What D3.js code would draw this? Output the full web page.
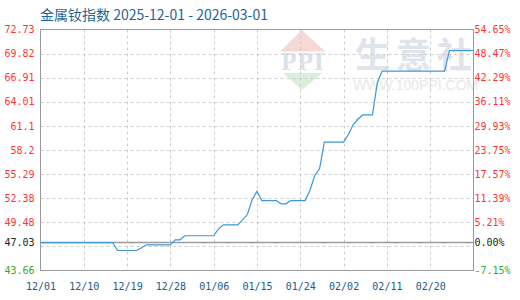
<!DOCTYPE html>
<html>
<head>
<meta charset="utf-8">
<script src="https://cdn.jsdelivr.net/npm/d3@7"></script>
<style>
  body { margin: 0; background: #fff; }
  svg { display: block; }
  .axis .domain { display: none; }
  .axis line { display: none; }
</style>
</head>
<body>
<div id="chart"></div>
<script>
// chart data
var titleText = "金属钕指数 2025-12-01 - 2026-03-01";
var baseValue = 47.03;
var dates = ["2025-12-01","2025-12-16","2025-12-17","2025-12-21","2025-12-22","2025-12-23",
	"2025-12-28","2025-12-29","2025-12-30","2025-12-31","2026-01-06","2026-01-07","2026-01-08",
	"2026-01-11","2026-01-12","2026-01-13","2026-01-14","2026-01-15","2026-01-16","2026-01-19",
	"2026-01-20","2026-01-21","2026-01-22","2026-01-25","2026-01-26","2026-01-27","2026-01-28",
	"2026-01-29","2026-02-02","2026-02-03","2026-02-04","2026-02-05","2026-02-06","2026-02-08",
	"2026-02-09","2026-02-10","2026-02-23","2026-02-24","2026-03-01"];
var values = [47.03,47.03,46.07,46.07,46.40,46.76,
	46.76,47.36,47.36,47.85,47.85,48.69,49.17,
	49.17,49.77,50.41,52.20,53.23,52.10,52.10,
	51.70,51.70,52.10,52.10,53.31,55.12,55.93,
	59.14,59.14,60.07,61.27,61.93,62.42,62.42,
	66.30,67.70,67.70,70.20,70.20];
var yTicks = [43.66, 46.57, 49.48, 52.38, 55.29, 58.2, 61.1, 64.01, 66.91, 69.82, 72.73];
var yTickLabels = ["43.66", "", "49.48", "52.38", "55.29", "58.2", "61.1", "64.01", "66.91", "69.82", "72.73"];
var pctTickLabels = ["-7.15%", "", "5.21%", "11.39%", "17.57%", "23.75%", "29.93%", "36.11%", "42.29%", "48.47%", "54.65%"];
var xTickLabels = ["12/01","12/10","12/19","12/28","01/06","01/15","01/24","02/02","02/11","02/20"];

var parseDate = d3.timeParse("%Y-%m-%d");
var series = dates.map((d, i) => ({date: parseDate(d), value: values[i]}));

var width = 520, height = 300;
var pLeft = 40.5, pRight = 473.5, pTop = 29.5, pBottom = 270.5;

var svg = d3.select("#chart").append("svg")
	.attr("width", width)
	.attr("height", height);

var x = d3.scaleTime()
	.domain([parseDate("2025-12-01"), parseDate("2026-03-01")])
	.range([pLeft, pRight]);
var y = d3.scaleLinear()
	.domain([43.66, 72.73])
	.range([pBottom, pTop]);

// watermark
var wm = svg.append("g");
wm.append("path")
	.attr("d", "M280,51.5 L302,30 L325,51.5 Z")
	.attr("fill", "#f6d9d6");
wm.append("path")
	.attr("d", "M283,73 L322,73 L302,90 Z")
	.attr("fill", "#d9eedb");
wm.append("text")
	.attr("x", 303).attr("y", 70)
	.attr("text-anchor", "middle")
	.attr("font-family", "Liberation Serif, serif")
	.attr("font-size", 25)
	.attr("font-weight", "bold")
	.attr("letter-spacing", 1)
	.attr("fill", "#dbe1ec")
	.text("PPI");
wm.append("text")
	.attr("x", 355).attr("y", 68)
	.attr("font-family", "Noto Sans CJK SC")
	.attr("font-size", 35)
	.attr("font-weight", "bold")
	.attr("letter-spacing", 6)
	.attr("fill", "#dfe3ec")
	.text("生意社");
wm.append("text")
	.attr("x", 353).attr("y", 90)
	.attr("font-family", "Liberation Sans, sans-serif")
	.attr("font-size", 14)
	.attr("fill", "#e8e8e8")
	.text("WWW.100PPI.COM");

// grid
var grid = svg.append("g")
	.attr("stroke", "#cccccc")
	.attr("stroke-dasharray", "3,3")
	.attr("stroke-width", 1);
grid.selectAll(".hgrid")
	.data(yTicks.slice(1, -1))
	.enter().append("line")
	.attr("x1", pLeft).attr("x2", pRight)
	.attr("y1", d => Math.round(y(d)) + 0.5)
	.attr("y2", d => Math.round(y(d)) + 0.5);

var xTickDates = xTickLabels.map(d => parseDate((d[0] == "1" ? "2025-" : "2026-") + d.replace("/", "-")));
grid.selectAll(".vgrid")
	.data(xTickDates.slice(1))
	.enter().append("line")
	.attr("y1", pTop).attr("y2", pBottom)
	.attr("x1", d => Math.round(x(d)) + 0.5)
	.attr("x2", d => Math.round(x(d)) + 0.5);

// base line
svg.append("line")
	.attr("x1", pLeft).attr("x2", pRight)
	.attr("y1", y(baseValue)).attr("y2", y(baseValue))
	.attr("stroke", "#9a9a9a")
	.attr("stroke-width", 1.5);

// frame
svg.append("rect")
	.attr("x", pLeft).attr("y", pTop)
	.attr("width", pRight - pLeft).attr("height", pBottom - pTop)
	.attr("fill", "none")
	.attr("stroke", "#9a9a9a")
	.attr("stroke-width", 1);

// line
var line = d3.line()
	.x(d => x(d.date))
	.y(d => y(d.value));
svg.append("path")
	.datum(series)
	.attr("fill", "none")
	.attr("stroke", "#3a98d8")
	.attr("stroke-width", 1.2)
	.attr("d", line);

// axes
function tickColor(i) {
	if (i == 0) return "#33aa33";
	return "#ff3333";
}

var yAxisLeft = d3.axisLeft(y)
	.tickValues(yTicks)
	.tickSize(0)
	.tickPadding(6)
	.tickFormat((d, i) => yTickLabels[i]);
var gl = svg.append("g")
	.attr("class", "axis")
	.attr("transform", "translate(" + pLeft + ",0)")
	.call(yAxisLeft);
gl.selectAll("text")
	.attr("font-family", "DejaVu Sans Mono, monospace")
	.attr("font-size", 10)
	.attr("fill", (d, i) => tickColor(i));

var yAxisRight = d3.axisRight(y)
	.tickValues(yTicks)
	.tickSize(0)
	.tickPadding(1)
	.tickFormat((d, i) => pctTickLabels[i]);
var gr = svg.append("g")
	.attr("class", "axis")
	.attr("transform", "translate(" + pRight + ",0)")
	.call(yAxisRight);
gr.selectAll("text")
	.attr("font-family", "DejaVu Sans Mono, monospace")
	.attr("font-size", 10)
	.attr("fill", (d, i) => tickColor(i));

// base value labels in black
svg.append("text")
	.attr("x", pLeft - 6).attr("y", y(baseValue))
	.attr("dy", "0.32em")
	.attr("text-anchor", "end")
	.attr("font-family", "DejaVu Sans Mono, monospace")
	.attr("font-size", 10)
	.attr("fill", "#222")
	.text(baseValue.toFixed(2));
svg.append("text")
	.attr("x", pRight + 1).attr("y", y(baseValue))
	.attr("dy", "0.32em")
	.attr("font-family", "DejaVu Sans Mono, monospace")
	.attr("font-size", 10)
	.attr("fill", "#222")
	.text("0.00%");

var xAxis = d3.axisBottom(x)
	.tickValues(xTickDates)
	.tickSize(0)
	.tickPadding(12)
	.tickFormat((d, i) => xTickLabels[i]);
var gx = svg.append("g")
	.attr("class", "axis")
	.attr("transform", "translate(0," + pBottom + ")")
	.call(xAxis);
gx.selectAll("text")
	.attr("font-family", "DejaVu Sans Mono, monospace")
	.attr("font-size", 10)
	.attr("fill", "#1a5a8c");

// title
svg.append("text")
	.attr("x", 40).attr("y", 20)
	.attr("font-family", "Noto Sans CJK SC")
	.attr("font-size", 14)
	.attr("fill", "#1f6496")
	.text(titleText);
</script>
</body>
</html>
